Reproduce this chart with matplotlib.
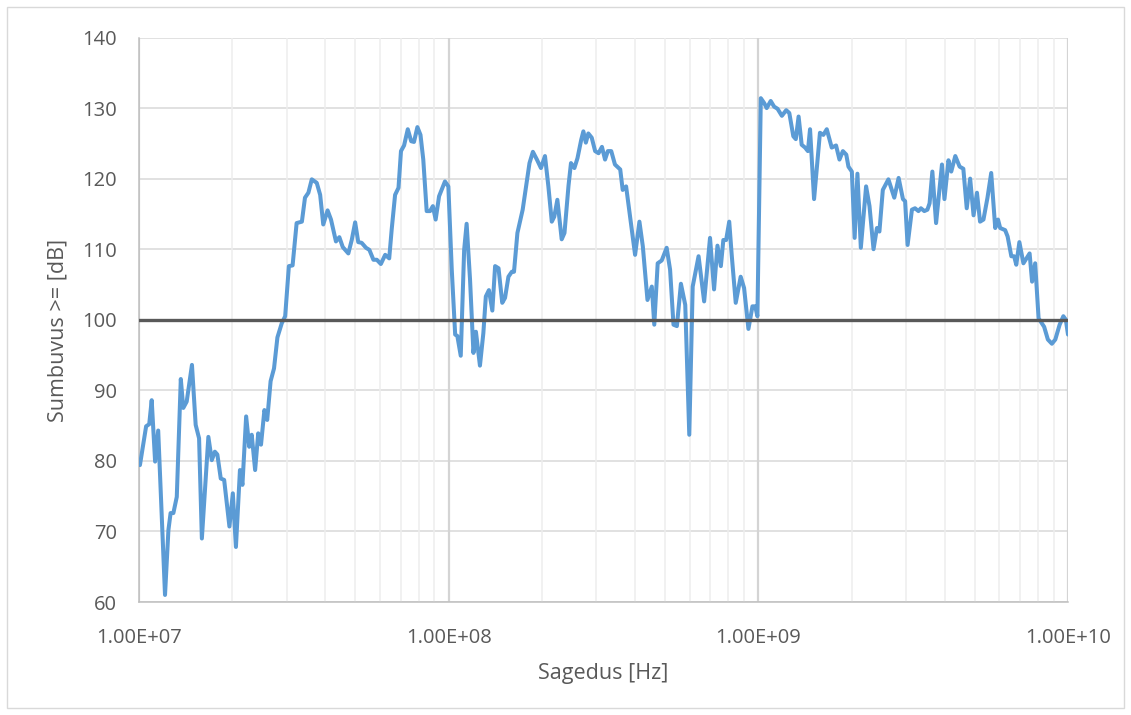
import numpy as np
import matplotlib
matplotlib.use("Agg")
import matplotlib.pyplot as plt
from matplotlib.ticker import FixedLocator, FuncFormatter, NullFormatter
from matplotlib.patches import Rectangle

# ---- data (frequency as log10 exponent, level in dB) ----
freq_exp = [
    7.003, 7.023, 7.033, 7.041, 7.052, 7.062, 7.084, 7.095, 7.102, 7.111,
    7.122, 7.135, 7.143, 7.154, 7.171, 7.183, 7.194, 7.203, 7.224, 7.235,
    7.245, 7.253, 7.264, 7.275, 7.292, 7.303, 7.313, 7.326, 7.334, 7.346,
    7.356, 7.364, 7.375, 7.385, 7.394, 7.405, 7.414, 7.425, 7.436, 7.447,
    7.461, 7.472, 7.484, 7.496, 7.509, 7.526, 7.536, 7.547, 7.558, 7.574,
    7.585, 7.595, 7.609, 7.620, 7.636, 7.647, 7.658, 7.676, 7.687, 7.698,
    7.708, 7.719, 7.733, 7.744, 7.757, 7.768, 7.781, 7.795, 7.808, 7.816,
    7.827, 7.838, 7.846, 7.856, 7.868, 7.879, 7.888, 7.899, 7.909, 7.918,
    7.929, 7.940, 7.949, 7.958, 7.969, 7.988, 7.999, 8.010, 8.021, 8.028,
    8.039, 8.050, 8.058, 8.069, 8.080, 8.088, 8.101, 8.112, 8.120, 8.130,
    8.141, 8.150, 8.161, 8.173, 8.182, 8.193, 8.204, 8.211, 8.222, 8.239,
    8.250, 8.261, 8.272, 8.285, 8.298, 8.311, 8.322, 8.333, 8.341, 8.351,
    8.365, 8.374, 8.387, 8.395, 8.406, 8.416, 8.428, 8.435, 8.443, 8.451,
    8.462, 8.473, 8.484, 8.495, 8.505, 8.514, 8.525, 8.537, 8.554, 8.562,
    8.573, 8.586, 8.602, 8.616, 8.627, 8.642, 8.656, 8.664, 8.675, 8.688,
    8.704, 8.715, 8.726, 8.737, 8.750, 8.764, 8.777, 8.788, 8.807, 8.825,
    8.844, 8.857, 8.868, 8.879, 8.887, 8.896, 8.906, 8.914, 8.927, 8.943,
    8.954, 8.968, 8.981, 8.990, 8.997, 9.008, 9.019, 9.027, 9.040, 9.051,
    9.062, 9.076, 9.090, 9.100, 9.113, 9.121, 9.130, 9.140, 9.151, 9.160,
    9.167, 9.180, 9.199, 9.210, 9.221, 9.237, 9.251, 9.262, 9.273, 9.284,
    9.291, 9.302, 9.311, 9.320, 9.331, 9.348, 9.359, 9.372, 9.383, 9.391,
    9.402, 9.420, 9.439, 9.453, 9.467, 9.474, 9.482, 9.496, 9.506, 9.517,
    9.525, 9.536, 9.546, 9.553, 9.562, 9.574, 9.593, 9.601, 9.614, 9.623,
    9.636, 9.650, 9.662, 9.673, 9.684, 9.695, 9.706, 9.716, 9.727, 9.740,
    9.752, 9.765, 9.774, 9.781, 9.797, 9.805, 9.817, 9.826, 9.833, 9.843,
    9.856, 9.876, 9.884, 9.894, 9.905, 9.923, 9.935, 9.948, 9.959, 9.973,
    9.985, 9.993, 10.000,
]
level_db = [
    79.4, 84.9, 85.2, 88.6, 79.9, 84.3, 61.0, 70.2, 72.6, 72.6,
    74.9, 91.6, 87.5, 88.4, 93.6, 85.1, 83.2, 69.0, 83.4, 80.1,
    81.3, 80.9, 77.5, 77.3, 70.7, 75.4, 67.8, 78.7, 76.6, 86.3,
    82.0, 83.7, 78.7, 83.9, 82.3, 87.2, 85.8, 91.3, 93.1, 97.5,
    99.5, 100.5, 107.6, 107.7, 113.7, 113.9, 117.3, 118.0, 119.9, 119.4,
    117.7, 113.5, 115.5, 114.2, 111.1, 111.7, 110.3, 109.4, 111.3, 113.8,
    111.0, 110.9, 110.2, 109.9, 108.5, 108.5, 107.9, 109.2, 108.7, 112.8,
    117.7, 118.7, 123.9, 124.7, 127.0, 125.3, 125.2, 127.3, 126.2, 122.7,
    115.4, 115.4, 116.1, 114.2, 117.5, 119.6, 118.9, 107.1, 97.9, 97.7,
    94.9, 109.9, 113.6, 105.7, 95.3, 98.3, 93.5, 98.1, 103.3, 104.2,
    101.3, 107.6, 107.3, 102.4, 103.1, 106.1, 106.8, 106.8, 112.3, 115.6,
    118.9, 122.2, 123.8, 122.7, 121.5, 123.2, 118.9, 113.9, 114.6, 117.0,
    111.4, 112.3, 119.0, 122.2, 121.5, 122.9, 125.5, 126.7, 125.1, 126.4,
    125.8, 123.9, 123.6, 124.5, 122.7, 123.9, 123.9, 122.0, 121.3, 118.4,
    118.9, 114.6, 109.2, 113.9, 110.4, 102.8, 104.7, 99.3, 108.0, 108.4,
    110.2, 107.1, 99.3, 99.1, 105.1, 102.1, 83.7, 104.7, 109.0, 102.6,
    111.6, 104.3, 110.5, 107.6, 111.3, 111.3, 113.9, 109.2, 102.4, 106.1,
    104.5, 98.7, 101.9, 101.9, 100.5, 131.4, 130.7, 130.0, 131.0, 130.2,
    129.9, 128.9, 129.7, 129.3, 126.0, 125.6, 128.8, 124.8, 124.4, 123.9,
    127.0, 117.1, 126.5, 126.2, 127.0, 124.4, 124.7, 122.7, 123.9, 123.4,
    121.7, 121.0, 111.6, 120.7, 110.2, 118.9, 116.1, 110.0, 113.0, 112.5,
    118.4, 119.9, 117.3, 120.1, 117.1, 116.8, 110.6, 115.6, 115.8, 115.4,
    115.8, 115.4, 115.6, 116.5, 121.0, 113.7, 122.0, 117.1, 122.6, 121.0,
    123.2, 121.7, 121.4, 115.8, 120.0, 114.8, 118.0, 113.9, 114.2, 117.3,
    120.8, 113.0, 114.2, 113.0, 112.7, 111.8, 109.0, 109.0, 107.8, 111.0,
    108.0, 109.4, 105.4, 108.0, 100.2, 99.0, 97.2, 96.6, 97.2, 99.3,
    100.5, 100.0, 97.9,
]
limit_db = 100

x_min, x_max = 1e7, 1e10
y_min, y_max = 60, 140
y_ticks = list(range(60, 141, 10))
x_major = [1e7, 1e8, 1e9, 1e10]
x_label = "Sagedus [Hz]"
y_label = "Sumbuvus >= [dB]"

freq = np.power(10.0, np.array(freq_exp))

# ---- figure ----
plt.rcParams['font.family'] = ['Open Sans', 'DejaVu Sans']
text_col = "#595959"

fig = plt.figure(figsize=(11.31, 7.15), dpi=100)
fig.patches.append(Rectangle((7 / 1131, 7 / 715), 1117 / 1131, 701 / 715,
                             transform=fig.transFigure, fill=False,
                             edgecolor="#d9d9d9", linewidth=1.0))
ax = fig.add_axes([139 / 1131, 1 - 602 / 715, 929 / 1131, 564.5 / 715])

ax.set_xscale("log")
ax.set_xlim(x_min, x_max)
ax.set_ylim(y_min, y_max)

minor = [m * 10.0 ** d for d in range(7, 10) for m in range(2, 10)]
ax.xaxis.set_major_locator(FixedLocator(x_major))
ax.xaxis.set_minor_locator(FixedLocator(minor))
ax.xaxis.set_minor_formatter(NullFormatter())
ax.xaxis.set_major_formatter(FuncFormatter(lambda v, p: f"{v:.2E}"))
ax.set_yticks(y_ticks)

for yv in y_ticks:
    ax.axhline(yv, color="#d9d9d9", lw=1.1, zorder=0)
for xv in minor:
    ax.axvline(xv, color="#eeeeee", lw=1.1, zorder=0)
for xv in x_major:
    ax.axvline(xv, color="#d4d4d4", lw=1.6, zorder=0)

for s in ["top", "right"]:
    ax.spines[s].set_visible(False)
for s in ["left", "bottom"]:
    ax.spines[s].set_color("#bfbfbf")
    ax.spines[s].set_linewidth(1.1)

ax.tick_params(axis="both", which="both", length=0, colors=text_col, labelsize=14.5)
ax.tick_params(axis="x", pad=19)
ax.tick_params(axis="y", pad=16)

ax.plot(freq, level_db, color="#5b9bd5", lw=2.9, solid_joinstyle="round",
        solid_capstyle="round", zorder=3)
ax.plot([x_min, x_max], [limit_db, limit_db], color="#595959", lw=2.4, zorder=4)

fig.text(603 / 1131, 1 - 673 / 715, x_label, ha="center", va="center",
         fontsize=15.5, color=text_col)
fig.text(58 / 1131, 1 - 330 / 715, y_label, ha="center", va="center",
         rotation=90, fontsize=15.5, color=text_col)

fig.savefig("out.png", dpi=100)
